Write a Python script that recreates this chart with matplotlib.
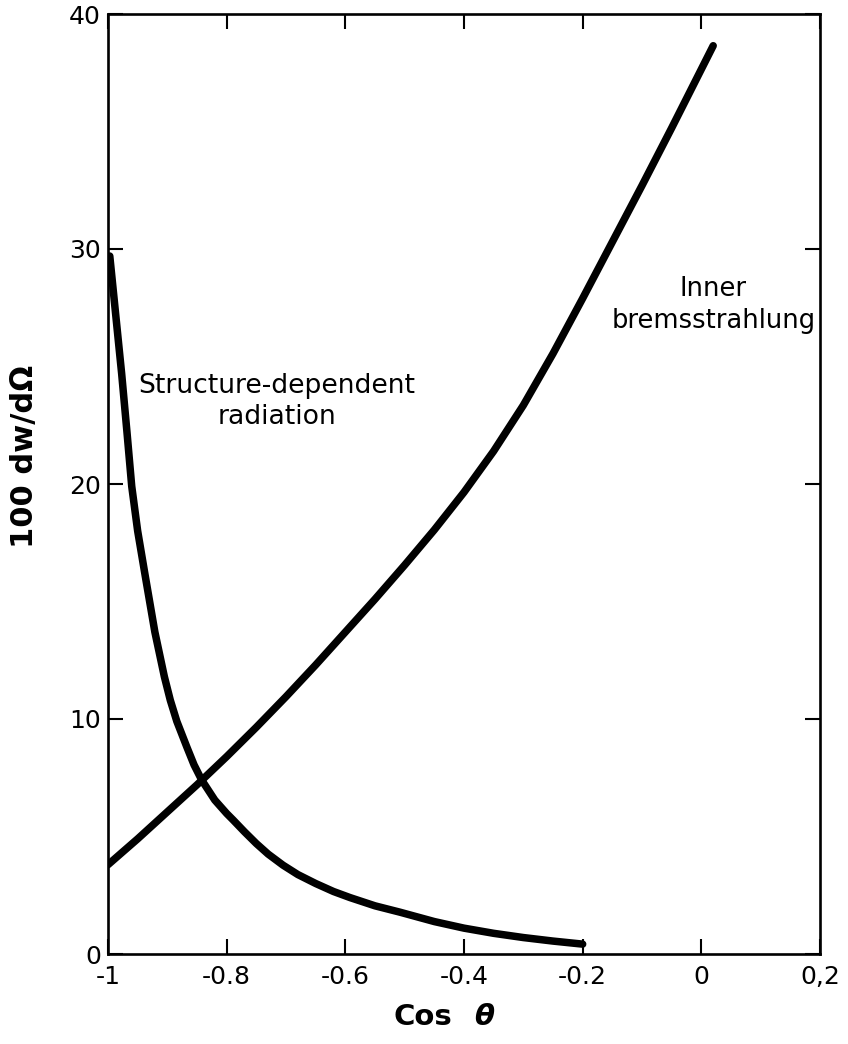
import matplotlib
matplotlib.use("Agg")
import matplotlib.pyplot as plt

# Inner bremsstrahlung curve
x_brems = [-1.0, -0.95, -0.9, -0.85, -0.8, -0.75, -0.7, -0.65, -0.6, -0.55, -0.5,
           -0.45, -0.4, -0.35, -0.3, -0.25, -0.2, -0.15, -0.1, -0.05, 0.0, 0.02]
y_brems = [3.8, 4.9, 6.05, 7.2, 8.4, 9.65, 10.95, 12.3, 13.7, 15.1, 16.55,
           18.05, 19.65, 21.4, 23.35, 25.55, 27.9, 30.3, 32.7, 35.15, 37.65, 38.65]

# Structure-dependent radiation curve
x_struct = [-0.997, -0.987, -0.977, -0.968, -0.960, -0.950, -0.938, -0.921, -0.905,
            -0.895, -0.884, -0.867, -0.855, -0.842, -0.820, -0.800, -0.789, -0.770,
            -0.750, -0.730, -0.705, -0.680, -0.650, -0.620, -0.592, -0.550, -0.508,
            -0.450, -0.400, -0.350, -0.300, -0.250, -0.200]
y_struct = [29.7, 27.2, 24.7, 22.2, 19.9, 18.0, 16.2, 13.7, 11.8,
            10.8, 9.9, 8.8, 8.05, 7.4, 6.55, 5.98, 5.7, 5.2,
            4.7, 4.25, 3.78, 3.38, 3.0, 2.66, 2.4, 2.05, 1.78,
            1.38, 1.1, 0.88, 0.7, 0.55, 0.42]

xticks = [-1, -0.8, -0.6, -0.4, -0.2, 0, 0.2]
xtick_labels = ['-1', '-0.8', '-0.6', '-0.4', '-0.2', '0', '0,2']
yticks = [0, 10, 20, 30, 40]
ytick_labels = ['0', '10', '20', '30', '40']

fig = plt.figure(figsize=(8.48, 10.44), dpi=100)
ax = fig.add_axes([108 / 848, 1 - 954 / 1044, (820 - 108) / 848, (954 - 14) / 1044])

ax.plot(x_brems, y_brems, color='black', lw=5.4, solid_capstyle='round',
        solid_joinstyle='round')
ax.plot(x_struct, y_struct, color='black', lw=5.4, solid_capstyle='round',
        solid_joinstyle='round')

ax.set_xlim(-1, 0.2)
ax.set_ylim(0, 40)
ax.set_xticks(xticks)
ax.set_xticklabels(xtick_labels)
ax.set_yticks(yticks)
ax.set_yticklabels(ytick_labels)

for s in ax.spines.values():
    s.set_linewidth(1.9)
ax.tick_params(direction='in', length=11, width=1.5, top=True, right=True,
               labelsize=18)
ax.tick_params(axis='x', pad=8)
ax.tick_params(axis='y', pad=5)

ax.text(-0.715, 23.5, "Structure-dependent\nradiation", ha='center', va='center',
        fontsize=19.2, linespacing=1.25)
ax.text(0.02, 27.6, "Inner\nbremsstrahlung", ha='center', va='center',
        fontsize=18.5, linespacing=1.3)

fig.text(423 / 848, 1 - 1017 / 1044, "Cos", ha='center', va='center',
         fontsize=21, fontweight='bold')
fig.text(484 / 848, 1 - 1017 / 1044, "θ", ha='center', va='center',
         fontsize=21, fontweight='bold', style='italic')
fig.text(25 / 848, 1 - 456 / 1044, "100 dw/dΩ", ha='center', va='center',
         rotation=90, fontsize=22, fontweight='bold')

fig.savefig("out.png", dpi=100)
